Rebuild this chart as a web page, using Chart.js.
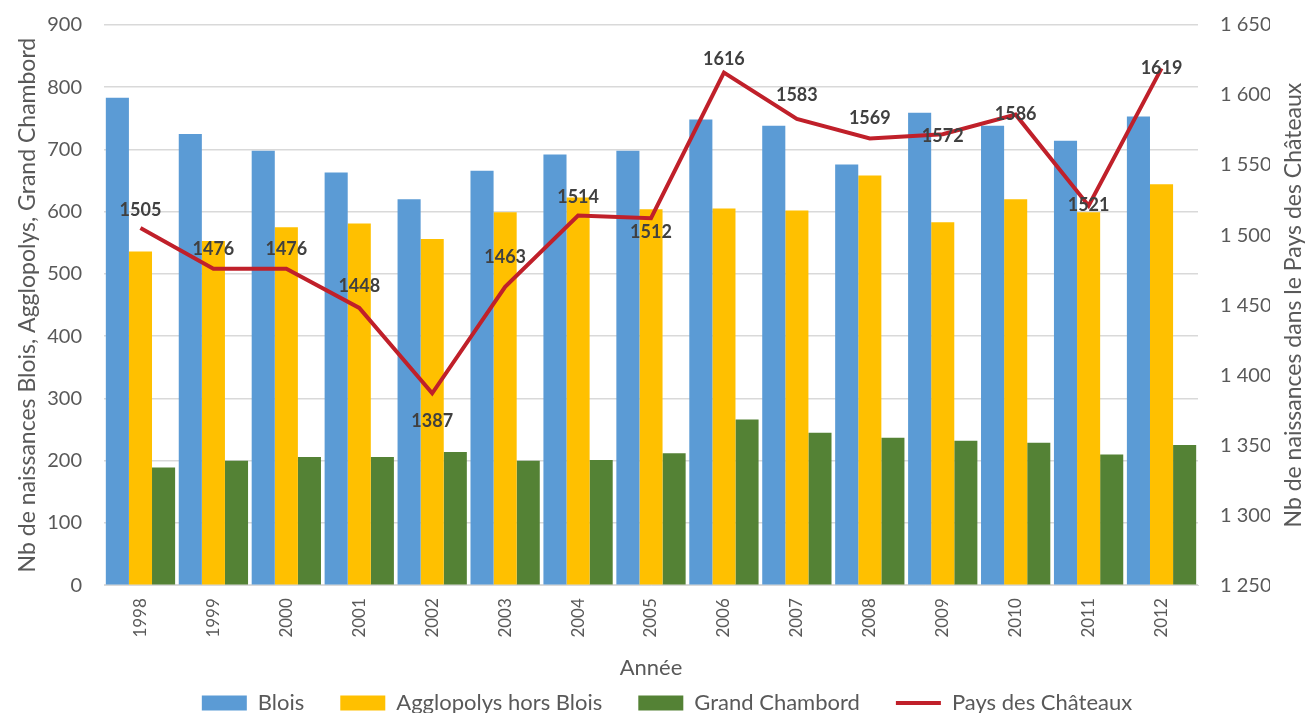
<!DOCTYPE html>
<html lang="fr">
<head>
<meta charset="utf-8">
<script src="https://cdn.jsdelivr.net/npm/chart.js@4/dist/chart.umd.min.js"></script>
<style>
  html, body { margin: 0; padding: 0; background: #fff; }
  #wrap { width: 1307px; height: 713px; position: relative; }
</style>
</head>
<body>
<div id="wrap"><canvas id="chart"></canvas></div>
<script>
const years = ['1998', '1999', '2000', '2001', '2002', '2003', '2004', '2005',
  '2006', '2007', '2008', '2009', '2010', '2011', '2012']
const blois = [783, 725, 698, 663, 620, 666, 692, 698, 748, 738, 676, 759, 738, 714, 753]
const agglopolys = [536, 553, 575, 581, 556, 599, 623, 604, 605, 602, 658, 583, 620, 599, 644]
const grandChambord = [189, 200, 206, 206, 214, 200, 201, 212, 266, 245, 237, 232, 229, 210, 225]
const paysChateaux = [1505, 1476, 1476, 1448, 1387, 1463, 1514, 1512, 1616, 1583, 1569, 1572, 1586, 1521, 1619]

// vertical shift of each value label from its point, in px (negative = above)
const LABEL_SHIFT = [-18, -19, -19, -22, 28, -30, -18, 14, -13, -24, -20, 2, 0, 0, 0]

const FONT = 'Lato, "Open Sans", sans-serif'
const GREY = '#595959'
const RIGHT_TITLE = 'Nb de naissances dans le Pays des Châteaux'

const lineLabels = {
  id: 'lineLabels',
  afterDatasetsDraw(chart) {
    const meta = chart.getDatasetMeta(3)
    const ctx = chart.ctx
    ctx.save()
    ctx.font = `bold 18px ${FONT}`
    ctx.fillStyle = '#404040'
    ctx.textAlign = 'center'
    ctx.textBaseline = 'middle'
    meta.data.forEach((point, i) => {
      ctx.fillText(String(paysChateaux[i]), point.x, point.y + LABEL_SHIFT[i])
    })
    ctx.restore()
  }
}

// right axis title, reading bottom to top like the left one
const rightTitle = {
  id: 'rightTitle',
  afterDraw(chart) {
    const area = chart.chartArea
    const ctx = chart.ctx
    ctx.save()
    ctx.translate(chart.width - 13, (area.top + area.bottom) / 2)
    ctx.rotate(-Math.PI / 2)
    ctx.font = `23px ${FONT}`
    ctx.fillStyle = GREY
    ctx.textAlign = 'center'
    ctx.textBaseline = 'middle'
    ctx.fillText(RIGHT_TITLE, 0, 0)
    ctx.restore()
  }
}

// the legend sits a little right of the canvas centre, as in the original
const legendShift = {
  id: 'legendShift',
  afterLayout(chart) {
    chart.legend.left += 27
    chart.legend.right += 27
  }
}

// fixed axis widths, and no tick padding added above the plot
const fitY = width => scale => {
  scale.width = width
  scale.paddingTop = 25
}

const ctx = document.getElementById('chart').getContext('2d')
new Chart(ctx, {
  type: 'bar',
  data: {
    labels: years,
    datasets: [
      { label: 'Blois', data: blois, backgroundColor: '#5B9BD5', yAxisID: 'y', order: 2 },
      { label: 'Agglopolys hors Blois', data: agglopolys, backgroundColor: '#FFC000', yAxisID: 'y', order: 2 },
      { label: 'Grand Chambord', data: grandChambord, backgroundColor: '#548235', yAxisID: 'y', order: 2 },
      {
        type: 'line', label: 'Pays des Châteaux', data: paysChateaux, yAxisID: 'y2', order: 1,
        borderColor: '#C0202A', backgroundColor: '#C0202A', borderWidth: 4,
        pointRadius: 0, tension: 0
      }
    ]
  },
  options: {
    responsive: true,
    maintainAspectRatio: false,
    animation: false,
    layout: { padding: { left: 10, right: 37, top: 0, bottom: -11 } },
    datasets: { bar: { categoryPercentage: 0.95, barPercentage: 1 } },
    plugins: {
      tooltip: { enabled: false },
      legend: {
        position: 'bottom',
        labels: {
          font: { family: FONT, size: 22 },
          color: GREY,
          usePointStyle: true,
          pointStyleWidth: 45,
          boxHeight: 15,
          padding: 36,
          sort: (a, b) => a.datasetIndex - b.datasetIndex,
          generateLabels(chart) {
            const items = Chart.defaults.plugins.legend.labels.generateLabels(chart)
            items.forEach(item => {
              const ds = chart.data.datasets[item.datasetIndex]
              if (ds.type === 'line') {
                item.pointStyle = 'line'
                item.strokeStyle = ds.borderColor
                item.lineWidth = 4
              } else {
                item.pointStyle = 'rect'
                item.lineWidth = 0
                item.strokeStyle = ds.backgroundColor
              }
            })
            return items
          }
        }
      }
    },
    scales: {
      x: {
        grid: { display: false, drawTicks: false },
        border: { color: '#D9D9D9' },
        ticks: { font: { family: FONT, size: 17 }, color: GREY, minRotation: 90, maxRotation: 90, padding: 13 },
        title: { display: true, text: 'Année', font: { family: FONT, size: 22 }, color: GREY, padding: { top: 4, bottom: -25 } }
      },
      y: {
        position: 'left',
        min: 0, max: 900,
        afterFit: fitY(94),
        ticks: { stepSize: 100, font: { family: FONT, size: 20 }, color: GREY, padding: 22 },
        grid: { color: '#D9D9D9', lineWidth: 1.5, drawTicks: false },
        border: { display: false },
        title: { display: true, text: 'Nb de naissances Blois, Agglopolys, Grand Chambord', font: { family: FONT, size: 23 }, color: GREY, padding: 4 }
      },
      y2: {
        position: 'right',
        min: 1250, max: 1650,
        afterFit: fitY(72),
        ticks: {
          stepSize: 50, font: { family: FONT, size: 20 }, color: GREY, padding: 22,
          callback: v => String(v).replace(/\B(?=(\d{3})+(?!\d))/g, ' ')
        },
        grid: { display: false, drawTicks: false },
        border: { display: false }
      }
    }
  },
  plugins: [lineLabels, rightTitle, legendShift]
})
</script>
</body>
</html>
